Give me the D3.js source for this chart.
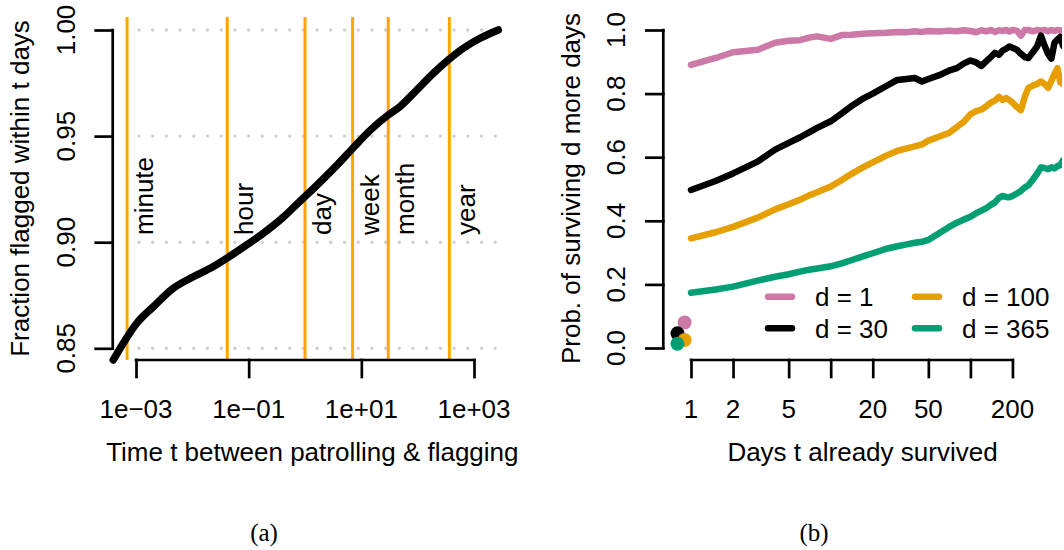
<!DOCTYPE html>
<html><head><meta charset="utf-8">
<script src="https://cdn.jsdelivr.net/npm/d3@7"></script>
<style>
body{margin:0;background:#fff}
svg{display:block}
text{font-family:"Liberation Sans", Arial, Helvetica, sans-serif; fill:#000}
.cap{font-family:"Liberation Serif","Times New Roman",serif}
</style>
</head><body>
<svg id="chart" width="1064" height="550"></svg>
<script>
// ---------- Panel (a) data ----------
const flagTimes = [3.95e-4, 5.94e-4, 1.03e-3, 2.03e-3, 4.59e-3, 0.0104, 0.0236, 0.0407, 0.0923, 0.182, 0.412, 0.815, 1, 2.11, 3.66, 7.19, 14.3, 30.1, 48.5, 96.2, 190, 350, 646, 1280, 2700];
const flagFraction = [0.8445, 0.8524, 0.8618, 0.8696, 0.8783, 0.8837, 0.8885, 0.8924, 0.8987, 0.9042, 0.9118, 0.9193, 0.9215, 0.9298, 0.9362, 0.9445, 0.9527, 0.9600, 0.9639, 0.9717, 0.9796, 0.9859, 0.9914, 0.9961, 1.0000];
const markerNames = ["minute", "hour", "day", "week", "month", "year"];
const markerDays = [1/1440, 1/24, 1, 7, 30, 365];
const xTicksA = [1e-3, 1e-1, 1e1, 1e3];
const xTickLabelsA = ["1e\u221203", "1e\u221201", "1e+01", "1e+03"];
const yTicksA = [0.85, 0.90, 0.95, 1.00];
const yTickLabelsA = ["0.85", "0.90", "0.95", "1.00"];

// ---------- Panel (b) data ----------
const survivedDays = [1, 1.5, 2, 3, 4, 5, 6, 7, 8, 10, 12, 14, 17, 20, 25, 30, 35, 40, 45, 50, 60, 70, 80, 90, 100, 110, 120, 130, 140, 150, 160, 170, 180, 190, 200, 215, 230, 245, 260, 280, 300, 320, 340, 360, 380, 400, 420, 440, 460, 480];
const probD1 = [0.890, 0.912, 0.930, 0.938, 0.960, 0.966, 0.968, 0.976, 0.980, 0.972, 0.984, 0.985, 0.988, 0.990, 0.991, 0.994, 0.993, 0.996, 0.994, 0.997, 0.995, 0.998, 0.996, 0.999, 0.997, 0.993, 0.999, 0.996, 1.000, 0.994, 0.999, 0.997, 1.000, 0.995, 1.000, 0.998, 0.982, 1.000, 1.000, 0.996, 1.000, 0.998, 1.000, 0.996, 1.000, 0.997, 1.000, 0.998, 1.000, 0.999];
const probD30 = [0.497, 0.525, 0.549, 0.586, 0.624, 0.645, 0.662, 0.678, 0.692, 0.713, 0.738, 0.760, 0.784, 0.800, 0.824, 0.843, 0.846, 0.849, 0.838, 0.846, 0.858, 0.872, 0.880, 0.895, 0.904, 0.898, 0.887, 0.902, 0.915, 0.928, 0.922, 0.935, 0.941, 0.948, 0.944, 0.938, 0.925, 0.915, 0.912, 0.930, 0.948, 0.982, 0.950, 0.925, 0.910, 0.960, 0.970, 0.978, 0.950, 0.965];
const probD100 = [0.345, 0.364, 0.381, 0.410, 0.436, 0.452, 0.466, 0.480, 0.490, 0.508, 0.528, 0.547, 0.568, 0.584, 0.605, 0.620, 0.628, 0.634, 0.640, 0.652, 0.665, 0.676, 0.695, 0.712, 0.735, 0.745, 0.750, 0.760, 0.772, 0.778, 0.790, 0.780, 0.786, 0.780, 0.772, 0.758, 0.748, 0.790, 0.818, 0.825, 0.830, 0.838, 0.830, 0.818, 0.840, 0.862, 0.880, 0.835, 0.830, 0.850];
const probD365 = [0.174, 0.184, 0.193, 0.212, 0.224, 0.232, 0.240, 0.246, 0.250, 0.257, 0.266, 0.276, 0.288, 0.298, 0.312, 0.320, 0.326, 0.331, 0.334, 0.340, 0.362, 0.380, 0.394, 0.404, 0.413, 0.424, 0.432, 0.440, 0.450, 0.458, 0.472, 0.478, 0.475, 0.474, 0.478, 0.486, 0.494, 0.505, 0.512, 0.530, 0.548, 0.568, 0.566, 0.562, 0.568, 0.565, 0.572, 0.575, 0.590, 0.595];
const seriesNames = ["d = 1", "d = 30", "d = 100", "d = 365"];
const seriesColors = ["#CC79A7", "#000000", "#E69F00", "#009E73"];
const pointDays = [0.9, 0.8, 0.9, 0.8];
const pointProb = [0.080, 0.046, 0.025, 0.013];
const xTicksB = [1, 2, 5, 10, 20, 50, 100, 200];
const xTickLabelsB = ["1", "2", "5", "", "20", "50", "", "200"];
const yTicksB = [0, 0.2, 0.4, 0.6, 0.8, 1.0];
const yTickLabelsB = ["0.0", "0.2", "0.4", "0.6", "0.8", "1.0"];

const svg = d3.select("#chart");
const FS = 26, TICK = 17, AXW = 2.7;

function styleAxis(g) {
  g.select(".domain").remove();
  g.selectAll(".tick line").attr("stroke", "#000").attr("stroke-width", AXW).attr("stroke-linecap", "square");
  g.selectAll(".tick text").remove();
}

// ================= Panel (a) =================
const xA = d3.scaleLog().domain([1e-3, 1e3]).range([136, 474]);
const yA = d3.scaleLinear().domain([0.85, 1.0]).range([348.3, 30]);
const plotA = {left: 112.7, right: 512, top: 17, bottom: 360};

// dotted grid
svg.append("g").selectAll("line").data(yTicksA).join("line")
  .attr("x1", 139).attr("x2", 508)
  .attr("y1", d => yA(d)).attr("y2", d => yA(d))
  .attr("stroke", "#cfcfcf").attr("stroke-width", 3.4)
  .attr("stroke-linecap", "round").attr("stroke-dasharray", "0 13.7");

// orange markers
svg.append("g").selectAll("line").data(markerDays).join("line")
  .attr("x1", d => xA(d)).attr("x2", d => xA(d))
  .attr("y1", plotA.top).attr("y2", plotA.bottom)
  .attr("stroke", "#FFA500").attr("stroke-width", 3);
svg.append("g").selectAll("text").data(markerNames).join("text")
  .attr("transform", (d, i) => `translate(${xA(markerDays[i]) + 26},235) rotate(-90)`)
  .attr("text-anchor", "start").attr("font-size", FS).text(d => d);

// curve
svg.append("path")
  .datum(flagTimes.map((t, i) => [t, flagFraction[i]]))
  .attr("fill", "none").attr("stroke", "#000").attr("stroke-width", 7.5)
  .attr("stroke-linecap", "round").attr("stroke-linejoin", "round")
  .attr("d", d3.line().x(d => xA(d[0])).y(d => yA(d[1])).curve(d3.curveMonotoneX));

// axes (a)
const gxA = svg.append("g").attr("transform", `translate(0,${plotA.bottom})`)
  .call(d3.axisBottom(xA).tickValues(xTicksA).tickSize(TICK)).call(styleAxis);
gxA.append("line").attr("x1", xA(xTicksA[0])).attr("x2", xA(xTicksA[xTicksA.length - 1]))
  .attr("stroke", "#000").attr("stroke-width", AXW).attr("stroke-linecap", "square");
svg.append("g").selectAll("text").data(xTicksA).join("text")
  .attr("x", d => xA(d)).attr("y", 418).attr("text-anchor", "middle").attr("font-size", FS)
  .text((d, i) => xTickLabelsA[i]);

const gyA = svg.append("g").attr("transform", `translate(${plotA.left},0)`)
  .call(d3.axisLeft(yA).tickValues(yTicksA).tickSize(TICK)).call(styleAxis);
gyA.append("line").attr("y1", yA(yTicksA[0])).attr("y2", yA(yTicksA[yTicksA.length - 1]))
  .attr("stroke", "#000").attr("stroke-width", AXW).attr("stroke-linecap", "square");
svg.append("g").selectAll("text").data(yTicksA).join("text")
  .attr("transform", d => `translate(${plotA.left - 38},${yA(d)}) rotate(-90)`)
  .attr("text-anchor", "middle").attr("font-size", FS).text((d, i) => yTickLabelsA[i]);

svg.append("text").attr("x", (plotA.left + plotA.right) / 2).attr("y", 461)
  .attr("text-anchor", "middle").attr("font-size", FS).text("Time t between patrolling & flagging");
svg.append("text").attr("transform", `translate(29,${(plotA.top + plotA.bottom) / 2}) rotate(-90)`)
  .attr("text-anchor", "middle").attr("font-size", FS).text("Fraction flagged within t days");

// ================= Panel (b) =================
const xB = d3.scaleLog().domain([1, 100]).range([691, 970.4]);
const yB = d3.scaleLinear().domain([0, 1]).range([348, 30]);
const plotB = {left: 663.3, right: 1062, top: 17, bottom: 360};

svg.append("defs").append("clipPath").attr("id", "clipB")
  .append("rect").attr("x", plotB.left).attr("y", 0).attr("width", plotB.right - plotB.left).attr("height", plotB.bottom);

const seriesVals = [probD1, probD30, probD100, probD365];
const lineB = d3.line().x(d => xB(d[0])).y(d => yB(d[1]));
svg.append("g").attr("clip-path", "url(#clipB)").selectAll("path").data(seriesVals).join("path")
  .attr("fill", "none").attr("stroke", (d, i) => seriesColors[i]).attr("stroke-width", 6.5)
  .attr("stroke-linecap", "round").attr("stroke-linejoin", "round")
  .attr("d", vals => lineB(survivedDays.map((t, j) => [t, vals[j]])));

svg.append("g").selectAll("circle").data(pointProb).join("circle")
  .attr("cx", (d, i) => xB(pointDays[i])).attr("cy", d => yB(d)).attr("r", 7)
  .attr("fill", (d, i) => seriesColors[i]);

// legend
const legCols = [768, 915], legRows = [296.7, 328.3];
const legOrder = [[0, 0], [0, 1], [1, 0], [1, 1]]; // [col,row] for each series
const leg = svg.append("g");
seriesNames.forEach((name, i) => {
  const [c, r] = legOrder[i];
  leg.append("line").attr("x1", legCols[c]).attr("x2", legCols[c] + 24)
    .attr("y1", legRows[r]).attr("y2", legRows[r])
    .attr("stroke", seriesColors[i]).attr("stroke-width", 6.5).attr("stroke-linecap", "round");
  leg.append("text").attr("x", legCols[c] + 47).attr("y", legRows[r] + 9.3)
    .attr("font-size", FS).text(name);
});

// axes (b)
const gxB = svg.append("g").attr("transform", `translate(0,${plotB.bottom})`)
  .call(d3.axisBottom(xB).tickValues(xTicksB).tickSize(TICK)).call(styleAxis);
gxB.append("line").attr("x1", xB(xTicksB[0])).attr("x2", xB(xTicksB[xTicksB.length - 1]))
  .attr("stroke", "#000").attr("stroke-width", AXW).attr("stroke-linecap", "square");
svg.append("g").selectAll("text").data(xTicksB).join("text")
  .attr("x", d => xB(d)).attr("y", 418).attr("text-anchor", "middle").attr("font-size", FS)
  .text((d, i) => xTickLabelsB[i]);

const gyB = svg.append("g").attr("transform", `translate(${plotB.left},0)`)
  .call(d3.axisLeft(yB).tickValues(yTicksB).tickSize(TICK)).call(styleAxis);
gyB.append("line").attr("y1", yB(yTicksB[0])).attr("y2", yB(yTicksB[yTicksB.length - 1]))
  .attr("stroke", "#000").attr("stroke-width", AXW).attr("stroke-linecap", "square");
svg.append("g").selectAll("text").data(yTicksB).join("text")
  .attr("transform", d => `translate(${plotB.left - 38},${yB(d)}) rotate(-90)`)
  .attr("text-anchor", "middle").attr("font-size", FS).text((d, i) => yTickLabelsB[i]);

svg.append("text").attr("x", 862.5).attr("y", 461)
  .attr("text-anchor", "middle").attr("font-size", FS).text("Days t already survived");
svg.append("text").attr("transform", `translate(580,${(plotB.top + plotB.bottom) / 2}) rotate(-90)`)
  .attr("text-anchor", "middle").attr("font-size", FS).text("Prob. of surviving d more days");

// captions
svg.append("text").attr("class", "cap").attr("x", 264).attr("y", 541)
  .attr("text-anchor", "middle").attr("font-size", 25).text("(a)");
svg.append("text").attr("class", "cap").attr("x", 814).attr("y", 541)
  .attr("text-anchor", "middle").attr("font-size", 25).text("(b)");
</script>
</body></html>
